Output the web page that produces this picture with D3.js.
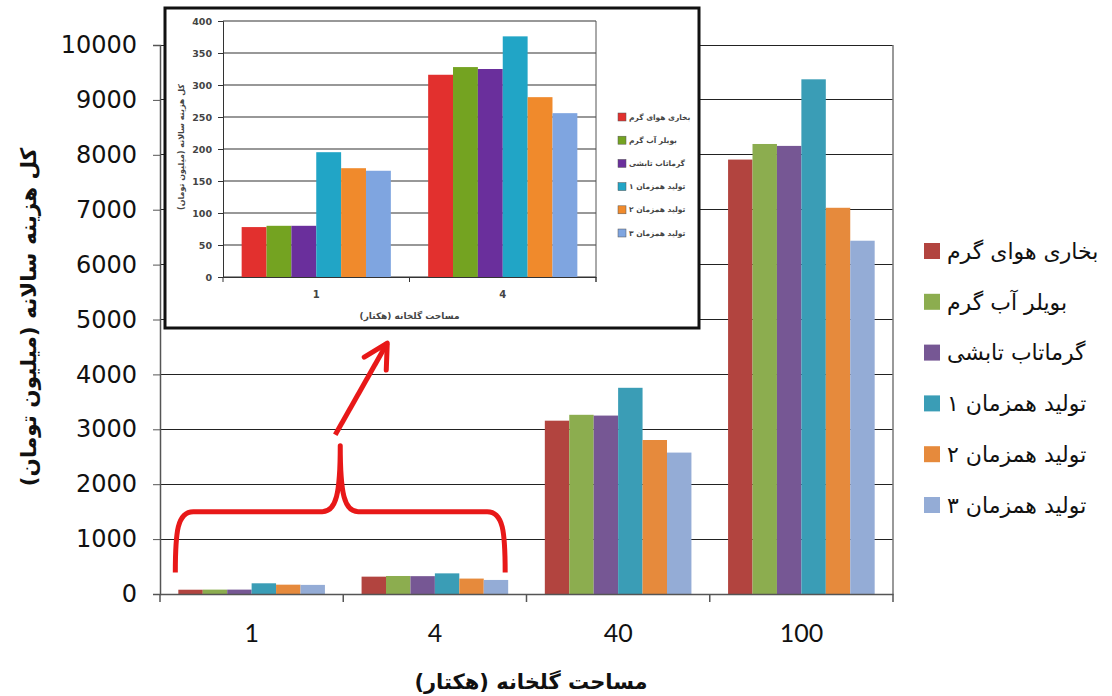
<!DOCTYPE html>
<html>
<head>
<meta charset="utf-8">
<script src="https://cdn.jsdelivr.net/npm/d3@7"></script>
<style>
  html, body { margin: 0; padding: 0; background: #fff; }
  svg { display: block; }
</style>
</head>
<body>
<svg id="chart" width="1112" height="696"></svg>
<script>
// ---------- DATA ----------
const categories = ["1", "4", "40", "100"];
const seriesNames = ["بخاری هوای گرم", "بویلر آب گرم", "گرماتاب تابشی", "تولید همزمان ۱", "تولید همزمان ۲", "تولید همزمان ۳"];
const heaterAir   = [78, 316, 3157, 7913];
const boilerWater = [80, 328, 3264, 8197];
const radiant     = [80, 325, 3250, 8162];
const chp1        = [195, 376, 3756, 9375];
const chp2        = [170, 281, 2805, 7035];
const chp3        = [166, 256, 2576, 6435];
const seriesValues = [heaterAir, boilerWater, radiant, chp1, chp2, chp3];
const yTicks = [0, 1000, 2000, 3000, 4000, 5000, 6000, 7000, 8000, 9000, 10000];

const insetCategories = ["1", "4"];
const insetYTicks = [0, 50, 100, 150, 200, 250, 300, 350, 400];

const xTitle = "مساحت گلخانه (هکتار)";
const yTitle = "کل هزینه سالانه (میلیون تومان)";

const mainColors  = ["#b2443f", "#8cad4f", "#765794", "#3a9db6", "#e68a3c", "#94acd6"];
const insetColors = ["#e2302e", "#74a321", "#6a2f9c", "#21a5c6", "#f08a2c", "#7fa5e0"];

// ---------- SETUP ----------
const svg = d3.select("#chart");
const W = 1112, H = 696;
svg.append("rect").attr("width", W).attr("height", H).attr("fill", "#fff");

const plot = { left: 160, right: 893, top: 45, bottom: 594 };

const x0 = d3.scaleBand().domain(categories).range([plot.left, plot.right]).paddingInner(0.2).paddingOuter(0.1);
const x1 = d3.scaleBand().domain(d3.range(seriesNames.length)).range([0, x0.bandwidth()]);
const y = d3.scaleLinear().domain([0, 10000]).range([plot.bottom, plot.top]);

// gridlines
const g = svg.append("g");
g.selectAll("line.grid").data(yTicks).enter().append("line")
  .attr("x1", plot.left).attr("x2", plot.right)
  .attr("y1", d => y(d)).attr("y2", d => y(d))
  .attr("stroke", "#222").attr("stroke-width", 1).attr("shape-rendering", "crispEdges");
// right border
g.append("line").attr("x1", plot.right).attr("x2", plot.right).attr("y1", plot.top).attr("y2", plot.bottom)
  .attr("stroke", "#777").attr("stroke-width", 1.5);

// bars
const groups = g.selectAll("g.cat").data(categories).enter().append("g")
  .attr("transform", d => `translate(${x0(d)},0)`);
groups.selectAll("rect").data((c, ci) => seriesValues.map((arr, si) => ({ si, v: arr[ci] })))
  .enter().append("rect")
  .attr("x", d => x1(d.si))
  .attr("width", x1.bandwidth())
  .attr("y", d => y(d.v))
  .attr("height", d => y(0) - y(d.v))
  .attr("fill", d => mainColors[d.si]);

// y axis
const yAxis = d3.axisLeft(y).tickValues(yTicks).tickSize(7).tickPadding(16).tickFormat(d3.format("d"));
const ya = svg.append("g").attr("transform", `translate(${plot.left},0)`).call(yAxis);
ya.select(".domain").attr("stroke", "#555").attr("stroke-width", 1.5);
ya.selectAll(".tick line").attr("stroke", "#555");
ya.selectAll("text").attr("font-family", "DejaVu Sans, Verdana, sans-serif").attr("font-size", 24).attr("fill", "#111");

// x axis
const xAxis = d3.axisBottom(x0).tickSize(0).tickPadding(30);
const xa = svg.append("g").attr("transform", `translate(0,${plot.bottom})`).call(xAxis);
xa.select(".domain").attr("stroke", "#555").attr("stroke-width", 1.5);
xa.selectAll("text").attr("font-family", "Lato, 'Open Sans', sans-serif").attr("font-size", 25).attr("fill", "#111");
// boundary ticks
const step = x0.step();
xa.selectAll("line.bt").data(d3.range(categories.length + 1)).enter().append("line")
  .attr("x1", i => plot.left + i * step).attr("x2", i => plot.left + i * step)
  .attr("y1", 0).attr("y2", 8).attr("stroke", "#555").attr("stroke-width", 1.5);

// axis titles
svg.append("text").attr("x", 531).attr("y", 689)
  .attr("text-anchor", "middle").attr("direction", "rtl")
  .attr("font-family", "DejaVu Sans, sans-serif").attr("font-weight", "bold").attr("font-size", 21)
  .attr("fill", "#111").text(xTitle);
svg.append("text").attr("transform", `translate(36,317) rotate(-90)`)
  .attr("text-anchor", "middle").attr("direction", "rtl")
  .attr("font-family", "DejaVu Sans, sans-serif").attr("font-weight", "bold").attr("font-size", 21.5)
  .attr("fill", "#111").text(yTitle);

// legend
const leg = svg.append("g");
seriesNames.forEach((name, i) => {
  const ly = 251 + i * 50.8;
  leg.append("rect").attr("x", 924).attr("y", ly - 8).attr("width", 16).attr("height", 16).attr("fill", mainColors[i]);
  leg.append("text").attr("x", 947).attr("y", ly).attr("dy", "0.35em")
    .attr("font-family", "DejaVu Sans, sans-serif").attr("font-size", 22).attr("fill", "#111").text(name);
});

// ---------- ANNOTATION (brace + arrow) ----------
const red = "#e81818";
const bL = x0("1") - 3, bR = x0("4") + x0.bandwidth() - 3, bM = (bL + bR) / 2;
const bBot = y(390), bMid = y(1500), bTop = y(2700);
const bracePath = `M${bL},${bBot} C${bL},${bMid + 20} ${bL + 2},${bMid} ${bL + 18},${bMid} L${bM - 18},${bMid} C${bM - 4},${bMid} ${bM},${bMid - 18} ${bM},${bTop} C${bM},${bMid - 18} ${bM + 4},${bMid} ${bM + 18},${bMid} L${bR - 18},${bMid} C${bR - 2},${bMid} ${bR},${bMid + 20} ${bR},${bBot}`;
svg.append("path").attr("d", bracePath).attr("fill", "none").attr("stroke", red)
  .attr("stroke-width", 5).attr("stroke-linejoin", "round");
const aTail = [bM - 5, y(2900)], aTip = [bM + 47, y(4570)];
svg.append("line").attr("x1", aTail[0]).attr("y1", aTail[1]).attr("x2", aTip[0]).attr("y2", aTip[1])
  .attr("stroke", red).attr("stroke-width", 5);
svg.append("polyline").attr("points", `${aTip[0] - 23},${aTip[1] + 14} ${aTip[0]},${aTip[1]} ${aTip[0] - 1},${aTip[1] + 27}`)
  .attr("fill", "none").attr("stroke", red).attr("stroke-width", 5).attr("stroke-linecap", "round").attr("stroke-linejoin", "round");

// ---------- INSET ----------
const box = { x: 165, y: 8, w: 534, h: 320 };
const inset = svg.append("g");
inset.append("rect").attr("x", box.x).attr("y", box.y).attr("width", box.w).attr("height", box.h)
  .attr("fill", "#fff").attr("stroke", "#111").attr("stroke-width", 3);

const ip = { left: 223, right: 596, top: 21, bottom: 277 };
const ix0 = d3.scaleBand().domain(insetCategories).range([ip.left, ip.right]).paddingInner(0.2).paddingOuter(0.1);
const ix1 = d3.scaleBand().domain(d3.range(seriesNames.length)).range([0, ix0.bandwidth()]);
const iy = d3.scaleLinear().domain([0, 400]).range([ip.bottom, ip.top]);

inset.selectAll("line.ig").data(insetYTicks).enter().append("line")
  .attr("x1", ip.left).attr("x2", ip.right).attr("y1", d => iy(d)).attr("y2", d => iy(d))
  .attr("stroke", "#333").attr("stroke-width", 1.2);
inset.append("line").attr("x1", ip.right).attr("x2", ip.right).attr("y1", ip.top).attr("y2", ip.bottom + 5)
  .attr("stroke", "#555").attr("stroke-width", 1);

const ig = inset.selectAll("g.icat").data(insetCategories).enter().append("g")
  .attr("transform", d => `translate(${ix0(d)},0)`);
ig.selectAll("rect").data((c, ci) => seriesValues.map((arr, si) => ({ si, v: arr[ci] })))
  .enter().append("rect")
  .attr("x", d => ix1(d.si)).attr("width", ix1.bandwidth())
  .attr("y", d => iy(d.v)).attr("height", d => iy(0) - iy(d.v))
  .attr("fill", d => insetColors[d.si]);

const iya = inset.append("g").attr("transform", `translate(${ip.left},0)`)
  .call(d3.axisLeft(iy).tickValues(insetYTicks).tickSize(5).tickPadding(6));
iya.select(".domain").attr("stroke", "#333");
iya.selectAll(".tick line").attr("stroke", "#333");
iya.selectAll("text").attr("font-family", "DejaVu Sans, sans-serif").attr("font-weight", "bold")
  .attr("font-size", 9.5).attr("fill", "#444");

const ixa = inset.append("g").attr("transform", `translate(0,${ip.bottom})`)
  .call(d3.axisBottom(ix0).tickSize(0).tickPadding(14));
ixa.select(".domain").attr("stroke", "#333");
ixa.selectAll("text").attr("font-family", "DejaVu Sans, sans-serif").attr("font-weight", "bold")
  .attr("font-size", 10).attr("fill", "#444");
const istep = ix0.step();
ixa.selectAll("line.ibt").data(d3.range(insetCategories.length + 1)).enter().append("line")
  .attr("x1", i => ip.left + i * istep).attr("x2", i => ip.left + i * istep)
  .attr("y1", 0).attr("y2", 5).attr("stroke", "#333");

inset.append("text").attr("x", (ip.left + ip.right) / 2).attr("y", 319)
  .attr("text-anchor", "middle").attr("direction", "rtl")
  .attr("font-family", "DejaVu Sans, sans-serif").attr("font-weight", "bold").attr("font-size", 9)
  .attr("fill", "#444").text(xTitle);
inset.append("text").attr("transform", `translate(184,147) rotate(-90)`)
  .attr("text-anchor", "middle").attr("direction", "rtl")
  .attr("font-family", "DejaVu Sans, sans-serif").attr("font-weight", "bold").attr("font-size", 8)
  .attr("fill", "#444").text(yTitle);

seriesNames.forEach((name, i) => {
  const ly = 117 + i * 23.2;
  inset.append("rect").attr("x", 618).attr("y", ly - 4).attr("width", 8).attr("height", 8)
    .attr("fill", insetColors[i]).attr("stroke", "#555").attr("stroke-width", 0.5);
  inset.append("text").attr("x", 629).attr("y", ly).attr("dy", "0.35em")
    .attr("font-family", "DejaVu Sans, sans-serif").attr("font-weight", "bold").attr("font-size", 7.5)
    .attr("fill", "#444").text(name);
});
</script>
</body>
</html>
